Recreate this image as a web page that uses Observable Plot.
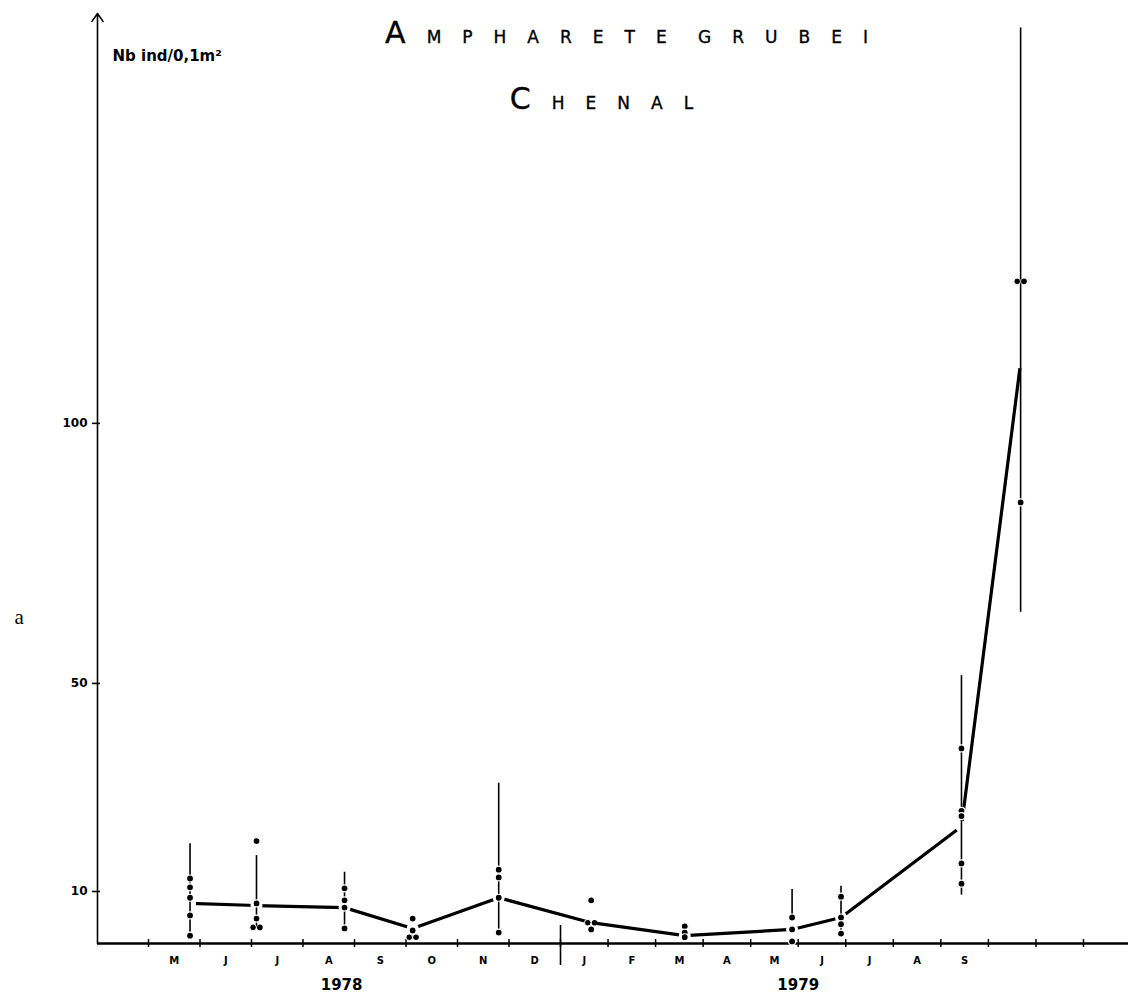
<!DOCTYPE html>
<html><head><meta charset="utf-8">
<script src="https://cdn.jsdelivr.net/npm/d3@7"></script>
<script src="https://cdn.jsdelivr.net/npm/@observablehq/plot@0.6"></script>
<style>
html,body{margin:0;padding:0;background:#fff;}
#chart{width:1128px;height:1004px;}
</style></head><body><div id="chart"></div>
<script>
// ---- data ----
const sampleDates = ["1978-05-26","1978-07-04","1978-08-26","1978-10-05","1978-11-25",
                     "1979-01-21","1979-03-20","1979-05-28","1979-06-28","1979-09-14","1979-10-22"];
const means     = [7.7, 7.3, 6.9, 2.9, 8.8, 4.0, 1.5, 2.7, 5.0, 22.5, 111.7];
const rangeLow  = [1.5, 3.1, 2.9, null, 2.1, null, null, 5.0, 1.9, 9.3, 63.7];
const rangeHigh = [19.2, 16.9, 13.7, null, 30.8, null, null, 10.4, 11.0, 51.5, 176];
const replicates = [
  [12.5, 10.8, 8.8, 5.4, 1.5],
  [19.7, 7.7, 4.8, 3.1, 3.1],
  [10.6, 8.3, 6.9, 2.9],
  [4.8, 2.5, 1.2, 1.2],
  [14.2, 12.7, 8.8, 2.1],
  [8.3, 4.0, 4.0, 2.7],
  [3.3, 2.1, 1.2],
  [5.0, 2.7, 0.4],
  [9.0, 5.0, 3.7, 1.9],
  [37.5, 25.5, 24.5, 15.4, 11.5],
  [127.3, 127.3, 84.8]
];
const monthLabels = ["M","J","J","A","S","O","N","D","J","F","M","A","M","J","J","A","S"];
const monthTicks = [1,2,3,4,5,6,7,8,9,10,11,12,13,14,15,16,17,18,19,20];
const yearBreak = [9];
const yTicks = [10, 50, 100];
const yearLabels = ["1978", "1979"];
const yearLabelAt = [4.75, 14.0];
const titleText = "AMPHARETE GRUBEI";
const subtitleText = "CHENAL";
const yLabel = "Nb ind/0,1m²";
const panelLetter = "a";
const yMax = 178.8;

// ---- derived tables ----
function monthIndex(s) {
  const [yy, mm, dd] = s.split("-").map(Number);
  const dim = new Date(Date.UTC(yy, mm, 0)).getUTCDate();
  return (yy - 1978) * 12 + (mm - 4) + (dd - 1) / dim;
}
const samples = sampleDates.map((d, i) => ({
  x: monthIndex(d), mean: means[i], lo: rangeLow[i], hi: rangeHigh[i]
}));
const singles = [], pairs = [];
replicates.forEach((vals, i) => {
  const counts = d3.rollup(vals, v => v.length, v => v);
  for (const [v, c] of counts) {
    if (c > 1) pairs.push({x: samples[i].x, y: v});
    else singles.push({x: samples[i].x, y: v});
  }
});
const ranged = samples.filter(s => s.lo != null);

const bold = "DejaVu Sans";
const chart = Plot.plot({
  width: 1128, height: 1004,
  marginLeft: 97, marginRight: 0, marginTop: 13, marginBottom: 61,
  x: {type: "linear", domain: [0, 1, 9, 20], range: [97, 148, 560, 1083], axis: null},
  y: {type: "linear", domain: [0, yMax], range: [943, 13], axis: null},
  style: {background: "white", fontFamily: "DejaVu Sans", color: "black"},
  marks: [
    // axes
    Plot.ruleY([0], {stroke: "black", strokeWidth: 2.6}),
    Plot.arrow([{x1: 0, y1: 0, x2: 0, y2: yMax}], {x1: "x1", y1: "y1", x2: "x2", y2: "y2",
      stroke: "black", strokeWidth: 1.6, headLength: 9, headAngle: 70}),
    Plot.ruleX(monthTicks, {x: d => d, y1: 0, y2: 0, insetTop: -4, insetBottom: -4, stroke: "black", strokeWidth: 1.5}),
    Plot.ruleX(yearBreak, {x: d => d, y1: 0, y2: 0, insetTop: -18, insetBottom: -22, stroke: "black", strokeWidth: 1.6}),
    Plot.ruleY(yTicks, {y: d => d, x1: 0, x2: 0, insetLeft: -5, insetRight: -3, stroke: "black", strokeWidth: 1.6}),
    Plot.text(yTicks, {y: d => d, x: 0, dx: -10, textAnchor: "end", text: d => String(d),
      fontSize: 12, fontWeight: "bold", fontFamily: bold}),
    Plot.text(monthLabels, {x: (d, i) => i + 1.5, y: 0, dy: 17, text: d => d,
      fontSize: 10, fontWeight: "bold", fontFamily: bold}),
    Plot.text(yearLabels, {x: (d, i) => yearLabelAt[i], y: 0, dy: 42, text: d => d,
      fontSize: 15, fontWeight: "bold", fontFamily: bold}),
    // mean line
    Plot.line(samples, {x: "x", y: "mean", stroke: "black", strokeWidth: 3.2}),
    Plot.dot(samples, {x: "x", y: "mean", r: 6, fill: "white", stroke: "none"}),
    // ranges
    Plot.ruleX(ranged, {x: "x", y1: "lo", y2: "hi", stroke: "black", strokeWidth: 1.6}),
    // replicates
    Plot.dot(singles, {x: "x", y: "y", r: 3.5, fill: "black", stroke: "white", strokeWidth: 1.2}),
    Plot.dot(pairs, {x: "x", y: "y", dx: -3.4, r: 3.3, fill: "black", stroke: "white", strokeWidth: 1}),
    Plot.dot(pairs, {x: "x", y: "y", dx: 3.4, r: 2.8, fill: "black", stroke: "none"}),
    // texts
    Plot.text([titleText], {frameAnchor: "top", dx: 24, dy: 29, lineAnchor: "bottom", text: d => d,
      fontSize: 17, fontFamily: "DejaVu Sans", fill: "black", stroke: "black", strokeWidth: 0.35}),
    Plot.text([subtitleText], {frameAnchor: "top", dx: -1, dy: 95, lineAnchor: "bottom", text: d => d,
      fontSize: 17, fontFamily: "DejaVu Sans", fill: "black", stroke: "black", strokeWidth: 0.35}),
    Plot.text([yLabel], {frameAnchor: "top-left", dx: 15, dy: 47, lineAnchor: "bottom", textAnchor: "start",
      text: d => d, fontSize: 15, fontWeight: "bold", fontFamily: bold}),
    Plot.text([panelLetter], {frameAnchor: "left", dx: -83, dy: 139, textAnchor: "start",
      text: d => d, fontSize: 21, fontFamily: "Liberation Serif"})
  ]
});

// big first letter + wide letter spacing for the hand-lettered title
d3.select(chart).selectAll("text").filter(function() {
  return this.textContent === titleText || this.textContent === subtitleText;
}).each(function() {
  const t = this.textContent;
  const sel = d3.select(this);
  sel.text(null).attr("letter-spacing", 21).attr("word-spacing", -16);
  sel.append("tspan").attr("font-size", 30).text(t[0]);
  sel.append("tspan").text(t.slice(1));
});

document.getElementById("chart").appendChild(chart);
</script>
</body></html>
